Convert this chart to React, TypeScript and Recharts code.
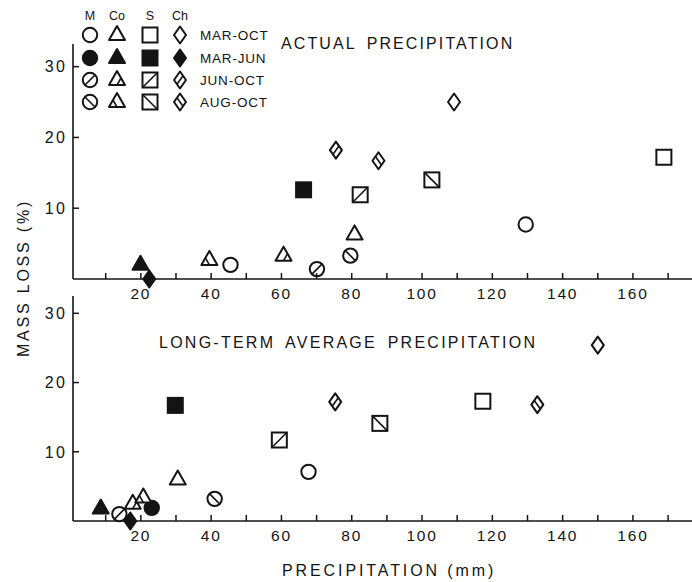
import { Scatter, ScatterChart, XAxis, YAxis } from "recharts";

type Period = "MAR-OCT" | "MAR-JUN" | "JUN-OCT" | "AUG-OCT";
type Species = "M" | "Co" | "S" | "Ch";
type Point = { precip: number; loss: number; period: Period };

const INK = "#141414";
const FONT = "'Liberation Sans', Arial, sans-serif";

const speciesCodes: Species[] = ["M", "Co", "S", "Ch"];
const periods: Period[] = ["MAR-OCT", "MAR-JUN", "JUN-OCT", "AUG-OCT"];

// actual precipitation (top panel)
const actualM: Point[] = [
  { precip: 45.5, loss: 2.0, period: "MAR-OCT" },
  { precip: 129.5, loss: 7.7, period: "MAR-OCT" },
  { precip: 70.1, loss: 1.4, period: "JUN-OCT" },
  { precip: 79.6, loss: 3.3, period: "AUG-OCT" },
];
const actualCo: Point[] = [
  { precip: 19.9, loss: 2.0, period: "MAR-JUN" },
  { precip: 39.5, loss: 2.7, period: "AUG-OCT" },
  { precip: 60.6, loss: 3.3, period: "JUN-OCT" },
  { precip: 80.8, loss: 6.3, period: "MAR-OCT" },
];
const actualS: Point[] = [
  { precip: 66.3, loss: 12.6, period: "MAR-JUN" },
  { precip: 82.4, loss: 11.9, period: "JUN-OCT" },
  { precip: 102.8, loss: 14.0, period: "AUG-OCT" },
  { precip: 168.8, loss: 17.2, period: "MAR-OCT" },
];
const actualCh: Point[] = [
  { precip: 22.4, loss: 0, period: "MAR-JUN" },
  { precip: 75.5, loss: 18.2, period: "JUN-OCT" },
  { precip: 87.6, loss: 16.7, period: "AUG-OCT" },
  { precip: 109.1, loss: 25.0, period: "MAR-OCT" },
];

// long-term average precipitation (bottom panel)
const averageM: Point[] = [
  { precip: 23.1, loss: 1.9, period: "MAR-JUN" },
  { precip: 13.9, loss: 1.0, period: "JUN-OCT" },
  { precip: 41.0, loss: 3.2, period: "AUG-OCT" },
  { precip: 67.7, loss: 7.1, period: "MAR-OCT" },
];
const averageCo: Point[] = [
  { precip: 8.6, loss: 1.8, period: "MAR-JUN" },
  { precip: 17.7, loss: 2.5, period: "JUN-OCT" },
  { precip: 20.7, loss: 3.4, period: "AUG-OCT" },
  { precip: 30.5, loss: 6.0, period: "MAR-OCT" },
];
const averageS: Point[] = [
  { precip: 29.8, loss: 16.7, period: "MAR-JUN" },
  { precip: 59.4, loss: 11.7, period: "JUN-OCT" },
  { precip: 88.0, loss: 14.1, period: "AUG-OCT" },
  { precip: 117.3, loss: 17.3, period: "MAR-OCT" },
];
const averageCh: Point[] = [
  { precip: 17.0, loss: 0, period: "MAR-JUN" },
  { precip: 75.3, loss: 17.2, period: "JUN-OCT" },
  { precip: 132.8, loss: 16.8, period: "AUG-OCT" },
  { precip: 150.0, loss: 25.4, period: "MAR-OCT" },
];

const precipTicks = [10, 20, 30, 40, 50, 60, 70, 80, 90, 100, 110, 120, 130, 140, 150, 160, 170];
const precipLabels = [20, 40, 60, 80, 100, 120, 140, 160];
const lossTicks = [10, 20, 30];

function Marker({
  species,
  period,
  cx,
  cy,
}: {
  species: Species;
  period: Period;
  cx: number;
  cy: number;
}) {
  const fill = period === "MAR-JUN" ? INK : "#fff";
  const style = { fill, stroke: INK, strokeWidth: 2 };
  const slash = period === "JUN-OCT" ? 1 : period === "AUG-OCT" ? -1 : 0;
  const line = { stroke: INK, strokeWidth: 1.6 };
  let body: React.ReactNode = null;
  let stripe: React.ReactNode = null;

  if (species === "M") {
    body = <circle cx={cx} cy={cy} r={7.2} {...style} />;
    if (slash) {
      const d = 5;
      stripe = <line x1={cx - d} y1={cy + slash * d} x2={cx + d} y2={cy - slash * d} {...line} />;
    }
  } else if (species === "S") {
    const h = 7.5;
    body = <rect x={cx - h} y={cy - h} width={h * 2} height={h * 2} {...style} />;
    if (slash) {
      stripe = <line x1={cx - h} y1={cy + slash * h} x2={cx + h} y2={cy - slash * h} {...line} />;
    }
  } else if (species === "Co") {
    body = (
      <polygon
        points={`${cx},${cy - 9} ${cx - 8},${cy + 5} ${cx + 8},${cy + 5}`}
        {...style}
        strokeLinejoin="round"
      />
    );
    if (slash) {
      stripe = <line x1={cx} y1={cy + 5} x2={cx + slash * 4} y2={cy - 2} {...line} />;
    }
  } else {
    body = (
      <polygon
        points={`${cx},${cy - 8.5} ${cx + 6},${cy} ${cx},${cy + 8.5} ${cx - 6},${cy}`}
        {...style}
        strokeLinejoin="round"
      />
    );
    if (slash) {
      stripe = <line x1={cx - 3} y1={cy + slash * 4.25} x2={cx + 3} y2={cy - slash * 4.25} {...line} />;
    }
  }
  return (
    <g>
      {body}
      {stripe}
    </g>
  );
}

const shapeFor = (species: Species) => (p: any) =>
  <Marker species={species} period={p.payload.period} cx={p.cx} cy={p.cy} />;

// tick marks point into the plot, so draw mark + label ourselves
const X_GAP = 8;
const Y_GAP = 5;
const TICK_LEN = 6;

function PrecipTick(props: any) {
  const { x, y, payload } = props;
  const axisY = y - X_GAP;
  const v = payload.value as number;
  return (
    <g>
      <line x1={x} y1={axisY} x2={x} y2={axisY - TICK_LEN} stroke={INK} strokeWidth={1.5} />
      {precipLabels.includes(v) && (
        <text x={x} y={axisY + 14} dy="0.36em" textAnchor="middle" fill={INK} fontSize={15.5} letterSpacing={1.8}>
          {v}
        </text>
      )}
    </g>
  );
}

function LossTick(props: any) {
  const { x, y, payload } = props;
  const axisX = x + Y_GAP;
  return (
    <g>
      <line x1={axisX} y1={y} x2={axisX + TICK_LEN} y2={y} stroke={INK} strokeWidth={1.5} />
      <text x={axisX - 6} y={y} dy="0.36em" textAnchor="end" fill={INK} fontSize={16} letterSpacing={2.2}>
        {payload.value}
      </text>
    </g>
  );
}

function Panel({
  series,
  height,
  marginTop,
  axisHeight,
  lossMax,
}: {
  series: Point[][];
  height: number;
  marginTop: number;
  axisHeight: number;
  lossMax: number;
}) {
  return (
    <ScatterChart
      width={692}
      height={height}
      margin={{ top: marginTop, right: 0, left: 0, bottom: 1 }}
      style={{ fontFamily: FONT }}
    >
      <XAxis
        type="number"
        dataKey="precip"
        domain={[0.7, 176.8]}
        ticks={precipTicks}
        interval={0}
        height={axisHeight}
        tickSize={0}
        tickMargin={X_GAP}
        tickLine={false}
        axisLine={{ stroke: INK, strokeWidth: 1.6 }}
        tick={<PrecipTick />}
      />
      <YAxis
        type="number"
        dataKey="loss"
        domain={[0, lossMax]}
        ticks={lossTicks}
        interval={0}
        width={73}
        tickSize={0}
        tickMargin={Y_GAP}
        tickLine={false}
        axisLine={{ stroke: INK, strokeWidth: 1.6 }}
        tick={<LossTick />}
      />
      {speciesCodes.map((sp, i) => (
        <Scatter
          key={sp}
          data={series[i]}
          shape={shapeFor(sp)}
          isAnimationActive={false}
        />
      ))}
    </ScatterChart>
  );
}

const legendX = [90, 117, 150, 180];
const legendY = [35, 58, 80, 102];

export default function App() {
  return (
    <div
      style={{
        position: "absolute",
        left: 0,
        top: 0,
        width: 692,
        height: 582,
        background: "#fff",
        fontFamily: FONT,
      }}
    >
      <div style={{ position: "absolute", left: 0, top: 0 }}>
        <Panel
          series={[actualM, actualCo, actualS, actualCh]}
          height={310}
          marginTop={44}
          axisHeight={30}
          lossMax={33.2}
        />
      </div>
      <div style={{ position: "absolute", left: 0, top: 280 }}>
        <Panel
          series={[averageM, averageCo, averageS, averageCh]}
          height={302}
          marginTop={16}
          axisHeight={60}
          lossMax={32.5}
        />
      </div>
      <svg
        width={692}
        height={582}
        style={{ position: "absolute", left: 0, top: 0, pointerEvents: "none" }}
        fontFamily={FONT}
        fill={INK}
      >
        {speciesCodes.map((sp, i) => (
          <text key={sp} x={legendX[i]} y={20} fontSize={12.5} textAnchor="middle">
            {sp}
          </text>
        ))}
        {periods.map((per, row) => (
          <g key={per}>
            {speciesCodes.map((sp, i) => (
              <Marker key={sp} species={sp} period={per} cx={legendX[i]} cy={legendY[row]} />
            ))}
            <text x={200} y={legendY[row] + 5} fontSize={13.5} letterSpacing={0.8}>
              {per}
            </text>
          </g>
        ))}
        <text x={281} y={49} fontSize={16} letterSpacing={2.1} wordSpacing={4}>
          ACTUAL PRECIPITATION
        </text>
        <text x={159} y={348} fontSize={16} letterSpacing={2.25} wordSpacing={4}>
          LONG-TERM AVERAGE PRECIPITATION
        </text>
        <text x={282} y={576} fontSize={16} letterSpacing={2.9}>
          PRECIPITATION (mm)
        </text>
        <text
          x={29}
          y={278}
          fontSize={16}
          letterSpacing={2.8}
          textAnchor="middle"
          transform="rotate(-90 29 278)"
        >
          MASS LOSS (%)
        </text>
      </svg>
    </div>
  );
}
